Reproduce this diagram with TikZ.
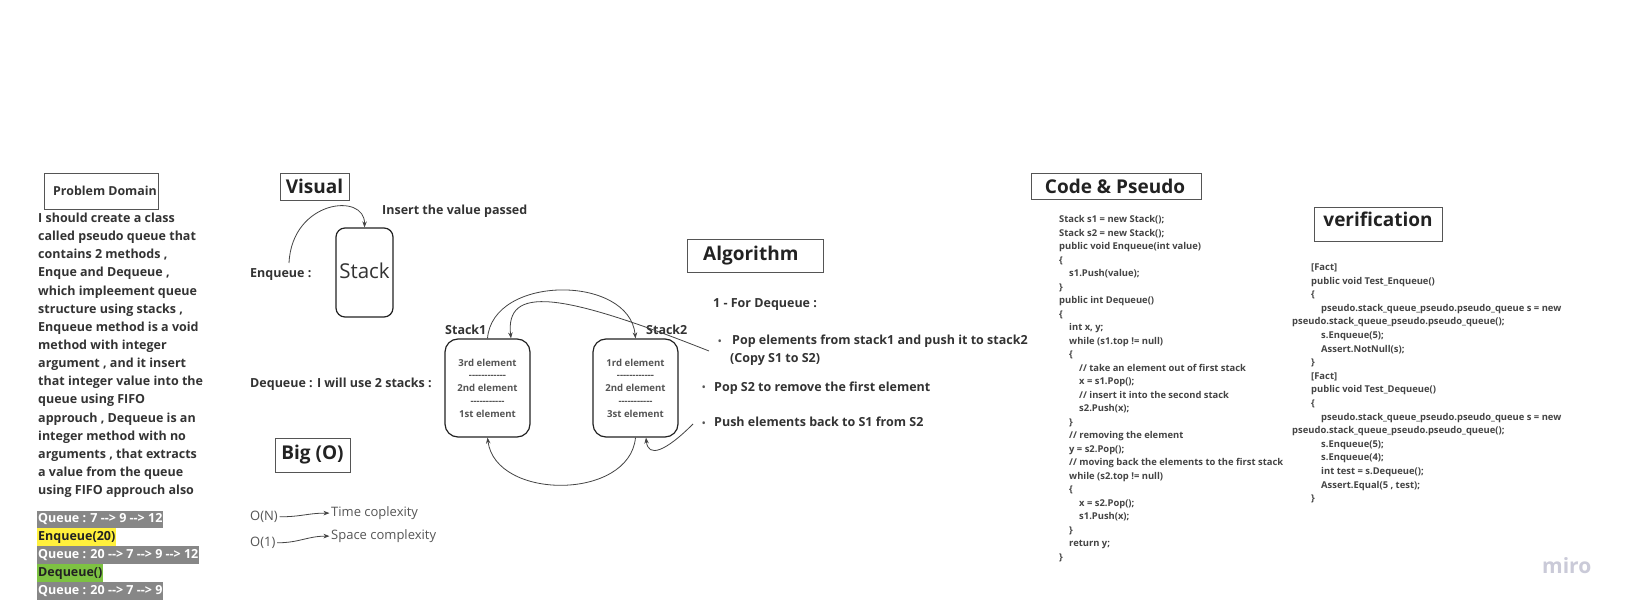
\documentclass[tikz,border=0pt]{standalone}
\usepackage{fontspec}
\setmainfont{Open Sans}
\usetikzlibrary{arrows.meta}
\definecolor{txtc}{HTML}{333333}
\definecolor{headc}{HTML}{222222}
\definecolor{codec}{HTML}{444444}
\definecolor{boxc}{HTML}{555555}
\definecolor{linec}{HTML}{444444}
\definecolor{elemc}{HTML}{555555}
\definecolor{hlgray}{HTML}{878787}
\definecolor{hlyellow}{HTML}{FFF03C}
\definecolor{hlgreen}{HTML}{7DC242}
\definecolor{miroc}{HTML}{CACAD8}
\newcommand\hh{\mbox{-}}
\newcommand\bodyln[3]{\node[bodytxt] (#1) at (38,{222.5+18.14*#2}) {#3};}
\newcommand\codeln[4]{\node[codetxt] (#1) at ({1059+10*#2},{222.5+13.52*#3}) {#4};}
\newcommand\verln[4]{\node[codetxt] (#1) at (#2,{270.5+13.6*#3}) {#4};}
\begin{document}
\begin{tikzpicture}[x=1pt,y=-1pt,
  hbox/.style={draw=boxc, line width=1.2pt, inner sep=0, anchor=north west},
  headtxt/.style={font=\fontsize{19}{22}\selectfont\bfseries, text=headc, inner sep=0},
  bodytxt/.style={font=\fontsize{12.5}{15}\selectfont\bfseries, text=txtc, inner sep=0, anchor=base west},
  lbltxt/.style={font=\fontsize{12.5}{15}\selectfont\bfseries, text=txtc, inner sep=0, anchor=base west},
  codetxt/.style={font=\fontsize{9.4}{12}\selectfont\bfseries, text=codec, inner sep=0, anchor=base west},
  stackbox/.style={draw=headc, line width=1.2pt, rounded corners=13pt, minimum width=85pt, minimum height=98pt, inner sep=0,
     font=\fontsize{9.6}{12.75}\selectfont\bfseries, text=elemc, align=center},
  hl/.style={anchor=west, inner xsep=1pt, inner ysep=3pt, text height=9pt, text depth=2.5pt,
     font=\fontsize{12.5}{15}\selectfont\bfseries},
  bigo/.style={font=\fontsize{13}{15}\selectfont, text=elemc, inner sep=1.5pt, anchor=base west},
  conn/.style={draw=linec, line width=0.8pt, -{Stealth[length=6pt,width=4.5pt]}},
  bul/.style={font=\fontsize{9}{10}\selectfont\bfseries, text=elemc, inner sep=0, anchor=base west}
]
\fill[white] (0,0) rectangle (1632,612);
\useasboundingbox (0,0) rectangle (1632,612);

% ---------- Problem domain ----------
\node[hbox, minimum width=114pt, minimum height=36pt] (pdbox) at (44,173) {};
\node[lbltxt, font=\fontsize{12.4}{14}\selectfont\bfseries] (pdt) at (53,195.5) {Problem Domain};
\bodyln{p0}{0}{I should create a class}
\bodyln{p1}{1}{called pseudo queue that}
\bodyln{p2}{2}{contains 2 methods ,}
\bodyln{p3}{3}{Enque and Dequeue ,}
\bodyln{p4}{4}{which impleement queue}
\bodyln{p5}{5}{structure using stacks ,}
\bodyln{p6}{6}{Enqueue method is a void}
\bodyln{p7}{7}{method with integer}
\bodyln{p8}{8}{argument , and it insert}
\bodyln{p9}{9}{that integer value into the}
\bodyln{p10}{10}{queue using FIFO}
\bodyln{p11}{11}{approuch , Dequeue is an}
\bodyln{p12}{12}{integer method with no}
\bodyln{p13}{13}{arguments , that extracts}
\bodyln{p14}{14}{a value from the queue}
\bodyln{p15}{15}{using FIFO approuch also}

\node[hl, fill=hlgray, text=white] (q1) at (37,519.5) {Queue : 7 \hh\hh> 9 \hh\hh> 12};
\node[hl, fill=hlyellow, text=headc] (q2) at (37,537.2) {Enqueue(20)};
\node[hl, fill=hlgray, text=white] (q3) at (37,555) {Queue : 20 \hh\hh> 7 \hh\hh> 9 \hh\hh> 12};
\node[hl, fill=hlgreen, text=headc] (q4) at (37,573) {Dequeue()};
\node[hl, fill=hlgray, text=white] (q5) at (37,591) {Queue : 20 \hh\hh> 7 \hh\hh> 9};

% ---------- Visual ----------
\node[hbox, minimum width=69pt, minimum height=27pt] (visbox) at (280,173) {};
\node[headtxt] (vist) at (314.5,186.5) {Visual};
\node[lbltxt] (ins) at (382,214.5) {Insert the value passed};
\node[draw=headc, line width=1.2pt, rounded corners=9pt, minimum width=57pt, minimum height=89pt, inner sep=0,
      font=\fontsize{20.5}{24}\selectfont, text=txtc, text height=13pt, text depth=0pt] (stack) at (364.5,272.5) {Stack};
\node[lbltxt] (enq) at (250,277.5) {Enqueue :};
\coordinate (enqs) at (289,263);
\draw[conn] (enqs) .. controls (292,200) and (365,192) .. (stack.north);

\node[lbltxt] (deq) at (250,387.5) {Dequeue : I will use 2 stacks :};
\node[stackbox] (s1) at (487.5,388) {3rd element\\\hh\hh\hh\hh\hh\hh\hh\hh\hh\hh\hh\hh\\2nd element\\\hh\hh\hh\hh\hh\hh\hh\hh\hh\hh\hh\\1st element};
\node[stackbox] (s2) at (635.5,388) {1rd element\\\hh\hh\hh\hh\hh\hh\hh\hh\hh\hh\hh\hh\\2nd element\\\hh\hh\hh\hh\hh\hh\hh\hh\hh\hh\hh\\3st element};
\node[lbltxt] (s1l) at (445,334.5) {Stack1};
\node[lbltxt] (s2l) at (646,334.5) {Stack2};

\coordinate (b1s) at (709,351);
\coordinate (b3s) at (693,424);
\draw[conn] (s1.north) .. controls +(5,-64) and +(-6,-64) .. (s2.north);
\draw[conn] (b1s) .. controls (560,292) and (505,285) .. ([xshift=23.5pt]s1.north);
\draw[conn] (s2.south) .. controls +(-6,63) and +(8,63) .. (s1.south);
\draw[conn] (b3s) .. controls (665,452) and (648,458) .. ([xshift=10.5pt]s2.south);

% ---------- Big O ----------
\node[hbox, minimum width=75pt, minimum height=34pt] (bigbox) at (275,438) {};
\node[headtxt] (bigt) at (312.5,455) {Big (O)};
\node[bigo] (on) at (248.5,520.5) {O(N)};
\node[bigo] (tc) at (329.5,516.5) {Time coplexity};
\node[bigo] (o1) at (248.5,546.5) {O(1)};
\node[bigo] (sc) at (329.5,539.5) {Space complexity};
\draw[conn] (on.east) .. controls +(22,0) and +(-22,0) .. (tc.west);
\draw[conn] (o1.east) .. controls +(22,0) and +(-22,0) .. (sc.west);

% ---------- Algorithm ----------
\node[hbox, minimum width=136pt, minimum height=33pt] (algbox) at (687,239) {};
\node[headtxt, anchor=west] (algt) at (703,255.5) {Algorithm};
\node[lbltxt] (a0) at (713,307.5) {1 - For Dequeue :};
\node[bul] (d1) at (718,344) {•};
\node[lbltxt] (a1) at (732,344.5) {Pop elements from stack1 and push it to stack2};
\node[lbltxt] (a1b) at (730,362.5) {(Copy S1 to S2)};
\node[bul] (d2) at (702,390.5) {•};
\node[lbltxt] (a2) at (714,391) {Pop S2 to remove the first element};
\node[bul] (d3) at (702,426) {•};
\node[lbltxt] (a3) at (714,426.5) {Push elements back to S1 from S2};

% ---------- Code & Pseudo ----------
\node[hbox, minimum width=170pt, minimum height=26pt] (codebox) at (1031,173) {};
\node[headtxt] (codet) at (1115,186.5) {Code \& Pseudo};
\codeln{c0}{0}{0}{Stack s1 = new Stack();}
\codeln{c1}{0}{1}{Stack s2 = new Stack();}
\codeln{c2}{0}{2}{public void Enqueue(int value)}
\codeln{c3}{0}{3}{\{}
\codeln{c4}{1}{4}{s1.Push(value);}
\codeln{c5}{0}{5}{\}}
\codeln{c6}{0}{6}{public int Dequeue()}
\codeln{c7}{0}{7}{\{}
\codeln{c8}{1}{8}{int x, y;}
\codeln{c9}{1}{9}{while (s1.top != null)}
\codeln{c10}{1}{10}{\{}
\codeln{c11}{2}{11}{// take an element out of first stack}
\codeln{c12}{2}{12}{x = s1.Pop();}
\codeln{c13}{2}{13}{// insert it into the second stack}
\codeln{c14}{2}{14}{s2.Push(x);}
\codeln{c15}{1}{15}{\}}
\codeln{c16}{1}{16}{// removing the element}
\codeln{c17}{1}{17}{y = s2.Pop();}
\codeln{c18}{1}{18}{// moving back the elements to the first stack}
\codeln{c19}{1}{19}{while (s2.top != null)}
\codeln{c20}{1}{20}{\{}
\codeln{c21}{2}{21}{x = s2.Pop();}
\codeln{c22}{2}{22}{s1.Push(x);}
\codeln{c23}{1}{23}{\}}
\codeln{c24}{1}{24}{return y;}
\codeln{c25}{0}{25}{\}}

% ---------- verification ----------
\node[hbox, minimum width=128pt, minimum height=34pt] (verbox) at (1314,207) {};
\node[headtxt] (vert) at (1378,219.5) {verification};
\verln{v0}{1311}{0}{[Fact]}
\verln{v1}{1311}{1}{public void Test\_Enqueue()}
\verln{v2}{1311}{2}{\{}
\verln{v3}{1321}{3}{pseudo.stack\_queue\_pseudo.pseudo\_queue s = new}
\verln{v4}{1292}{4}{pseudo.stack\_queue\_pseudo.pseudo\_queue();}
\verln{v5}{1321}{5}{s.Enqueue(5);}
\verln{v6}{1321}{6}{Assert.NotNull(s);}
\verln{v7}{1311}{7}{\}}
\verln{v8}{1311}{8}{[Fact]}
\verln{v9}{1311}{9}{public void Test\_Dequeue()}
\verln{v10}{1311}{10}{\{}
\verln{v11}{1321}{11}{pseudo.stack\_queue\_pseudo.pseudo\_queue s = new}
\verln{v12}{1292}{12}{pseudo.stack\_queue\_pseudo.pseudo\_queue();}
\verln{v13}{1321}{13}{s.Enqueue(5);}
\verln{v14}{1321}{14}{s.Enqueue(4);}
\verln{v15}{1321}{15}{int test = s.Dequeue();}
\verln{v16}{1321}{16}{Assert.Equal(5 , test);}
\verln{v17}{1311}{17}{\}}

\node[font=\fontsize{21}{24}\selectfont\bfseries, text=miroc, inner sep=0, anchor=base west] (miro) at (1542,573) {miro};
\end{tikzpicture}
\end{document}
